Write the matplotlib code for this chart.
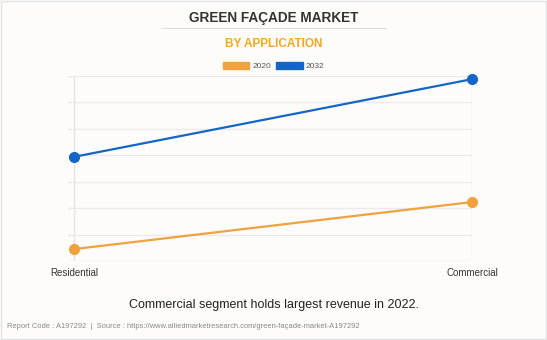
import matplotlib
matplotlib.use('Agg')
import matplotlib.pyplot as plt
from matplotlib.patches import Rectangle
from matplotlib.lines import Line2D

plt.rcParams['font.family'] = ['Liberation Sans', 'DejaVu Sans']

# Data (relative units, no y labels shown)
categories = ["Residential", "Commercial"]
values_2020 = [0.45, 2.23]
values_2032 = [3.94, 6.88]
series_names = ["2020", "2032"]
colors = ["#f0a23e", "#1565c4"]

fig = plt.figure(figsize=(5.47, 3.40), dpi=100)
fig.patch.set_facecolor("#fdfcfb")

# outer border
fig.patches.append(Rectangle((0.002, 0.003), 0.996, 0.994, transform=fig.transFigure,
                             fill=False, edgecolor="#e2e2e2", linewidth=1))

ax = fig.add_axes([0.1243, 0.2324, 0.7387, 0.5441])
ax.set_facecolor("#fdfcfb")

x = list(range(len(categories)))
for vals, name, c in zip([values_2020, values_2032], series_names, colors):
    ax.plot(x, vals, color=c, linewidth=1.6, marker="o", markersize=7, label=name,
            zorder=3, clip_on=False)

ax.set_xlim(-0.015, 1)
ax.set_ylim(0, 7)
ax.set_yticks(range(8))
ax.set_yticklabels([])
ax.tick_params(axis="y", length=0)
ax.set_xticks(x)
ax.set_xticklabels(categories, fontsize=7, color="#333333")
ax.tick_params(axis="x", length=0, pad=5)
ax.grid(axis="y", color="#ebebeb", linewidth=1)
ax.grid(axis="x", color="#e3e3e3", linewidth=1)
for s in ax.spines.values():
    s.set_visible(False)

# titles
fig.text(0.5, 0.948, "GREEN FAÇADE MARKET", ha="center", va="center",
         fontsize=9.8, fontweight="bold", color="#333333")
fig.add_artist(Line2D([0.294, 0.706], [0.918, 0.918], transform=fig.transFigure,
                      color="#e0e0e0", linewidth=0.8))
fig.text(0.5, 0.871, "BY APPLICATION", ha="center", va="center",
         fontsize=8.5, fontweight="bold", color="#f5a623")

# legend
handles = [Rectangle((0, 0), 1, 1, color=c) for c in colors]
fig.legend(handles, series_names, loc="center", bbox_to_anchor=(0.5, 0.806), ncol=2,
           frameon=False, fontsize=6, handlelength=3.2, handleheight=0.9,
           columnspacing=0.6, handletextpad=0.35, labelcolor="#555555")

fig.text(0.5, 0.103, "Commercial segment holds largest revenue in 2022.", ha="center",
         va="center", fontsize=9, color="#222222")
fig.text(0.013, 0.041,
         "Report Code : A197292  |  Source : https://www.alliedmarketresearch.com/green-façade-market-A197292",
         ha="left", va="center", fontsize=5.4, color="#888888")

fig.savefig("out.png", dpi=100, facecolor=fig.get_facecolor())
